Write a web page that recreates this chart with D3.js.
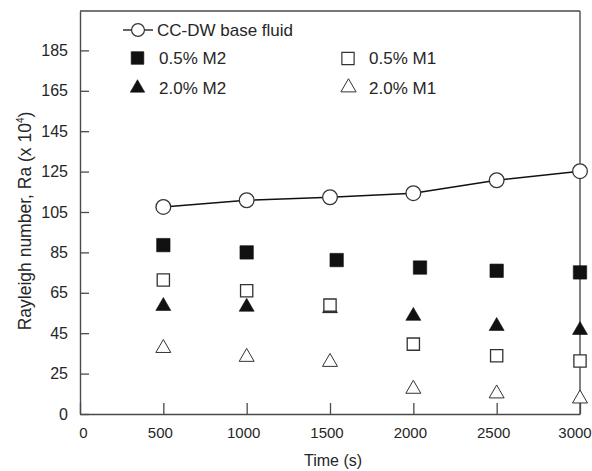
<!DOCTYPE html>
<html>
<head>
<meta charset="utf-8">
<script src="https://cdn.jsdelivr.net/npm/d3@7"></script>
<style>
  html, body { margin: 0; padding: 0; background: #fff; }
  svg { display: block; font-family: "Liberation Sans", Arial, sans-serif; }
</style>
</head>
<body>
<svg id="chart" width="592" height="471"></svg>
<script>
// Rayleigh number over time for the base fluid and four nanofluid samples
const baseTime  = [500, 1000, 1500, 2000, 2500, 3000];
const baseFluid = [107.5, 110.8, 112.3, 114.3, 120.7, 125.2];

const m2Low5Time = [500, 1000, 1540, 2040, 2500, 3000];
const m2Low5     = [88.6, 85.0, 81.2, 77.5, 75.9, 75.1];   // 0.5% M2

const m1Low5Time = [500, 1000, 1500, 2000, 2500, 3000];
const m1Low5     = [71.3, 66.0, 58.9, 39.6, 33.8, 31.2];   // 0.5% M1

const m2High2Time = [500, 1000, 1500, 2000, 2500, 3000];
const m2High2     = [58.4, 58.0, 57.3, 53.5, 48.5, 46.5];  // 2.0% M2

const m1High2Time = [500, 1000, 1500, 2000, 2500, 3000];
const m1High2     = [37.6, 33.2, 30.7, 17.4, 15.1, 12.6];  // 2.0% M1

const xTicks      = [0, 500, 1000, 1500, 2000, 2500, 3000];
const yTicks      = [5, 25, 45, 65, 85, 105, 125, 145, 165, 185];
const yTickLabels = ["0", "25", "45", "65", "85", "105", "125", "145", "165", "185"];

const legendNames = ["CC-DW base fluid", "0.5% M2", "2.0% M2", "0.5% M1", "2.0% M1"];

const svg = d3.select("#chart");
const plotLeft = 80, plotRight = 580, plotTop = 11, plotBottom = 414;

const x = d3.scaleLinear().domain([0, 3000]).range([plotLeft, plotRight]);
const y = d3.scaleLinear().domain([5, 204.5]).range([plotBottom, plotTop]);

const axisColor = "#4a4a4a";
const textColor = "#262626";

// frame: top and right edges
svg.append("line").attr("x1", plotLeft).attr("x2", plotRight).attr("y1", plotTop).attr("y2", plotTop)
  .attr("stroke", axisColor).attr("stroke-width", 1.4);
svg.append("line").attr("x1", plotRight).attr("x2", plotRight).attr("y1", plotTop).attr("y2", plotBottom)
  .attr("stroke", axisColor).attr("stroke-width", 1.4);

// x axis with inward ticks; end labels nudged so they stay inside the canvas
const xAxis = svg.append("g").attr("transform", `translate(0,${plotBottom})`)
  .call(d3.axisBottom(x).tickValues(xTicks).tickSizeInner(-11).tickSizeOuter(0).tickPadding(13)
    .tickFormat(d3.format("d")));
xAxis.select(".domain").attr("stroke", axisColor).attr("stroke-width", 1.4);
xAxis.selectAll(".tick line").attr("stroke", axisColor).attr("stroke-width", 1.3);
xAxis.selectAll(".tick text").attr("font-size", 15).attr("fill", textColor)
  .attr("font-family", "Liberation Sans, Arial, sans-serif")
  .attr("dx", d => d === 0 ? 3 : (d === 3000 ? -5.5 : -3.5));

// y axis with inward ticks
const yAxis = svg.append("g").attr("transform", `translate(${plotLeft},0)`)
  .call(d3.axisLeft(y).tickValues(yTicks).tickSizeInner(-9).tickSizeOuter(0).tickPadding(12)
    .tickFormat((d, i) => yTickLabels[i]));
yAxis.select(".domain").attr("stroke", axisColor).attr("stroke-width", 1.4);
yAxis.selectAll(".tick line").attr("stroke", axisColor).attr("stroke-width", 1.3);
yAxis.selectAll(".tick text").attr("font-size", 16).attr("fill", textColor)
  .attr("font-family", "Liberation Sans, Arial, sans-serif");

// axis titles
svg.append("text").attr("x", 333).attr("y", 466).attr("text-anchor", "middle")
  .attr("font-size", 16).attr("fill", textColor).text("Time (s)");

const yTitle = svg.append("text")
  .attr("transform", "translate(31,221) rotate(-90)")
  .attr("text-anchor", "middle").attr("font-size", 17.5).attr("fill", textColor);
yTitle.append("tspan").text("Rayleigh number, Ra (x 10");
yTitle.append("tspan").attr("font-size", 10).attr("dy", -7).text("4");
yTitle.append("tspan").attr("dy", 7).text(")");

// marker shapes
const sym = (type, size) => d3.symbol().type(type).size(size)();
const markFill = "#111";
const openStroke = "#333";

function drawSeries(times, values, type, size, filled, sw) {
  svg.append("g").selectAll("path").data(values).join("path")
    .attr("transform", (d, i) => `translate(${x(times[i])},${y(d)})`)
    .attr("d", sym(type, size))
    .attr("fill", filled ? markFill : "#fff")
    .attr("stroke", filled ? markFill : openStroke)
    .attr("stroke-width", filled ? 0.6 : sw);
}

// base fluid connecting line
svg.append("path")
  .datum(baseFluid)
  .attr("d", d3.line().x((d, i) => x(baseTime[i])).y(d => y(d)))
  .attr("fill", "none").attr("stroke", "#111").attr("stroke-width", 1.5);

drawSeries(m1High2Time, m1High2, d3.symbolTriangle, 97, false, 1.0);
drawSeries(m2High2Time, m2High2, d3.symbolTriangle, 97, true);
drawSeries(m1Low5Time, m1Low5, d3.symbolSquare, 150, false, 1.3);
drawSeries(m2Low5Time, m2Low5, d3.symbolSquare, 180, true);
drawSeries(baseTime, baseFluid, d3.symbolCircle, 170, false, 1.3);

// legend
const lg = svg.append("g");
lg.append("line").attr("x1", 123).attr("x2", 153).attr("y1", 30).attr("y2", 30)
  .attr("stroke", "#111").attr("stroke-width", 1.3);
lg.append("path").attr("transform", "translate(138,30)").attr("d", sym(d3.symbolCircle, 130))
  .attr("fill", "#fff").attr("stroke", openStroke).attr("stroke-width", 1.2);
lg.append("path").attr("transform", "translate(137.5,58)").attr("d", sym(d3.symbolSquare, 160))
  .attr("fill", markFill).attr("stroke", markFill).attr("stroke-width", 0.6);
lg.append("path").attr("transform", "translate(137.5,88)").attr("d", sym(d3.symbolTriangle, 90))
  .attr("fill", markFill).attr("stroke", markFill).attr("stroke-width", 0.6);
lg.append("path").attr("transform", "translate(348,58.5)").attr("d", sym(d3.symbolSquare, 150))
  .attr("fill", "#fff").attr("stroke", openStroke).attr("stroke-width", 1.2);
lg.append("path").attr("transform", "translate(348.5,87.5)").attr("d", sym(d3.symbolTriangle, 100))
  .attr("fill", "#fff").attr("stroke", openStroke).attr("stroke-width", 1.0);

const legendPos = [[157, 30], [159, 58], [159, 88], [369, 58], [369, 88]];
lg.selectAll("text.lbl").data(legendNames).join("text").attr("class", "lbl")
  .attr("x", (d, i) => legendPos[i][0]).attr("y", (d, i) => legendPos[i][1])
  .attr("dy", "0.36em").attr("font-size", 17).attr("fill", textColor).text(d => d);
</script>
</body>
</html>
